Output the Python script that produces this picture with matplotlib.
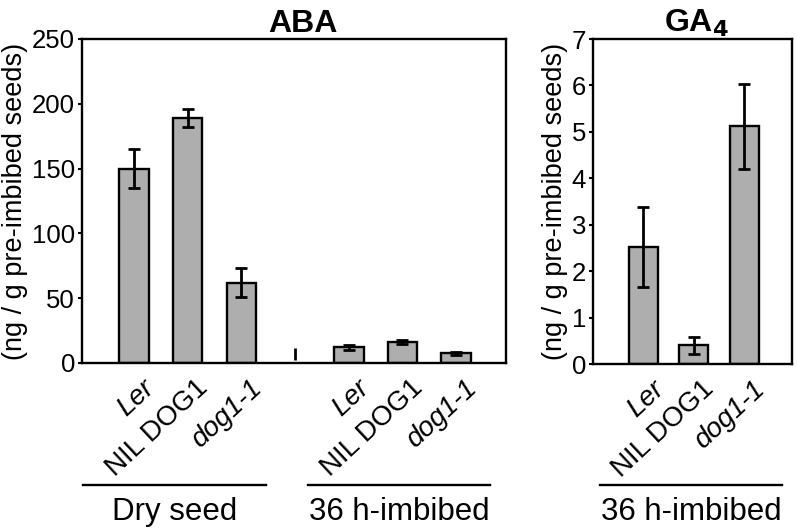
import matplotlib
matplotlib.use("Agg")
import matplotlib.pyplot as plt
import matplotlib.transforms as mtransforms
import numpy as np

plt.rcParams['font.family'] = ['Liberation Sans', 'DejaVu Sans']

# ABA data
aba_labels = ["Ler", "NIL DOG1", "dog1-1", "", "Ler", "NIL DOG1", "dog1-1"]
aba_italic = [True, False, True, False, True, False, True]
aba_values = [150, 189, 62, None, 12, 16, 7.5]
aba_errors = [15, 7, 11, None, 2, 1.5, 1]
aba_sep_range = [2.5, 11.5]   # small vertical mark between groups
aba_yticks = [0, 50, 100, 150, 200, 250]
aba_groups = ["Dry seed", "36 h-imbibed"]

# GA4 data
ga_labels = ["Ler", "NIL DOG1", "dog1-1"]
ga_italic = [True, False, True]
ga_values = [2.52, 0.40, 5.12]
ga_errors = [0.87, 0.18, 0.92]
ga_yticks = [0, 1, 2, 3, 4, 5, 6, 7]
ga_groups = ["36 h-imbibed"]

ylabel = "(ng / g pre-imbibed seeds)"
bar_color = "#aeaeae"
TICK_FS = 18.5
CAT_FS = 20
CAT_ROT = 43
YLAB_FS = 19.5
GROUP_FS = 22.5
TITLE_FS = 23

fig = plt.figure(figsize=(7.97, 5.32), dpi=100)
ax1 = fig.add_axes([82/797, 1-363/532, 424/797, 324/532])
ax2 = fig.add_axes([593/797, 1-364/532, 199/797, 325/532])


def style(ax):
    for s in ax.spines.values():
        s.set_linewidth(1.7)
    ax.tick_params(axis='y', direction='out', length=3, width=1.5, labelsize=TICK_FS, pad=2)
    ax.set_xticks([])
    ax.set_ylabel(ylabel, fontsize=YLAB_FS, labelpad=3)


def cat_labels(ax, positions, labels, italic):
    base = mtransforms.blended_transform_factory(ax.transData, ax.transAxes)
    tr = mtransforms.offset_copy(base, fig=fig, x=8, y=-12, units='dots')
    for x, lab, it in zip(positions, labels, italic):
        if not lab:
            continue
        ax.text(x, 0, lab, transform=tr, rotation=CAT_ROT, ha='right', va='top',
                rotation_mode='anchor', fontsize=CAT_FS,
                style='italic' if it else 'normal', clip_on=False)


# ABA panel
pos = np.arange(len(aba_values))
for i, (v, e) in enumerate(zip(aba_values, aba_errors)):
    if v is None:
        continue
    ax1.bar(pos[i], v, width=0.55, color=bar_color, edgecolor='black', linewidth=1.7, zorder=2)
    ax1.errorbar(pos[i], v, yerr=e, color='black', elinewidth=2, capsize=4.5, capthick=2, zorder=3)
ax1.vlines(3, aba_sep_range[0], aba_sep_range[1], color='black', linewidth=2)
ax1.set_xlim(-0.97, 6.93)
ax1.set_ylim(0, 250)
ax1.set_yticks(aba_yticks)
style(ax1)
cat_labels(ax1, pos, aba_labels, aba_italic)
ax1.set_title("ABA", fontsize=TITLE_FS, fontweight='bold', pad=4, x=0.52)

# GA4 panel
pos2 = np.arange(len(ga_values))
ax2.bar(pos2, ga_values, width=0.58, color=bar_color, edgecolor='black', linewidth=1.7, zorder=2)
ax2.errorbar(pos2, ga_values, yerr=ga_errors, fmt='none', ecolor='black', elinewidth=2,
             capsize=4.5, capthick=2, zorder=3)
ax2.set_xlim(-1.0, 2.95)
ax2.set_ylim(0, 7)
ax2.set_yticks(ga_yticks)
style(ax2)
cat_labels(ax2, pos2, ga_labels, ga_italic)
ax2.set_title(r"GA$_\mathbf{4}$", fontsize=TITLE_FS, fontweight='bold', pad=4, x=0.52)

# group lines and labels (figure pixel coords)
def group(x0, x1, text):
    y = 1 - 485/532
    fig.add_artist(plt.Line2D([x0/797, x1/797], [y, y], color='black', linewidth=1.7))
    fig.text((x0 + x1)/2/797, 1 - 512/532, text, ha='center', va='center', fontsize=GROUP_FS)

group(83, 266, aba_groups[0])
group(308, 490, aba_groups[1])
group(600, 782, ga_groups[0])

fig.savefig("out.png", dpi=100)
